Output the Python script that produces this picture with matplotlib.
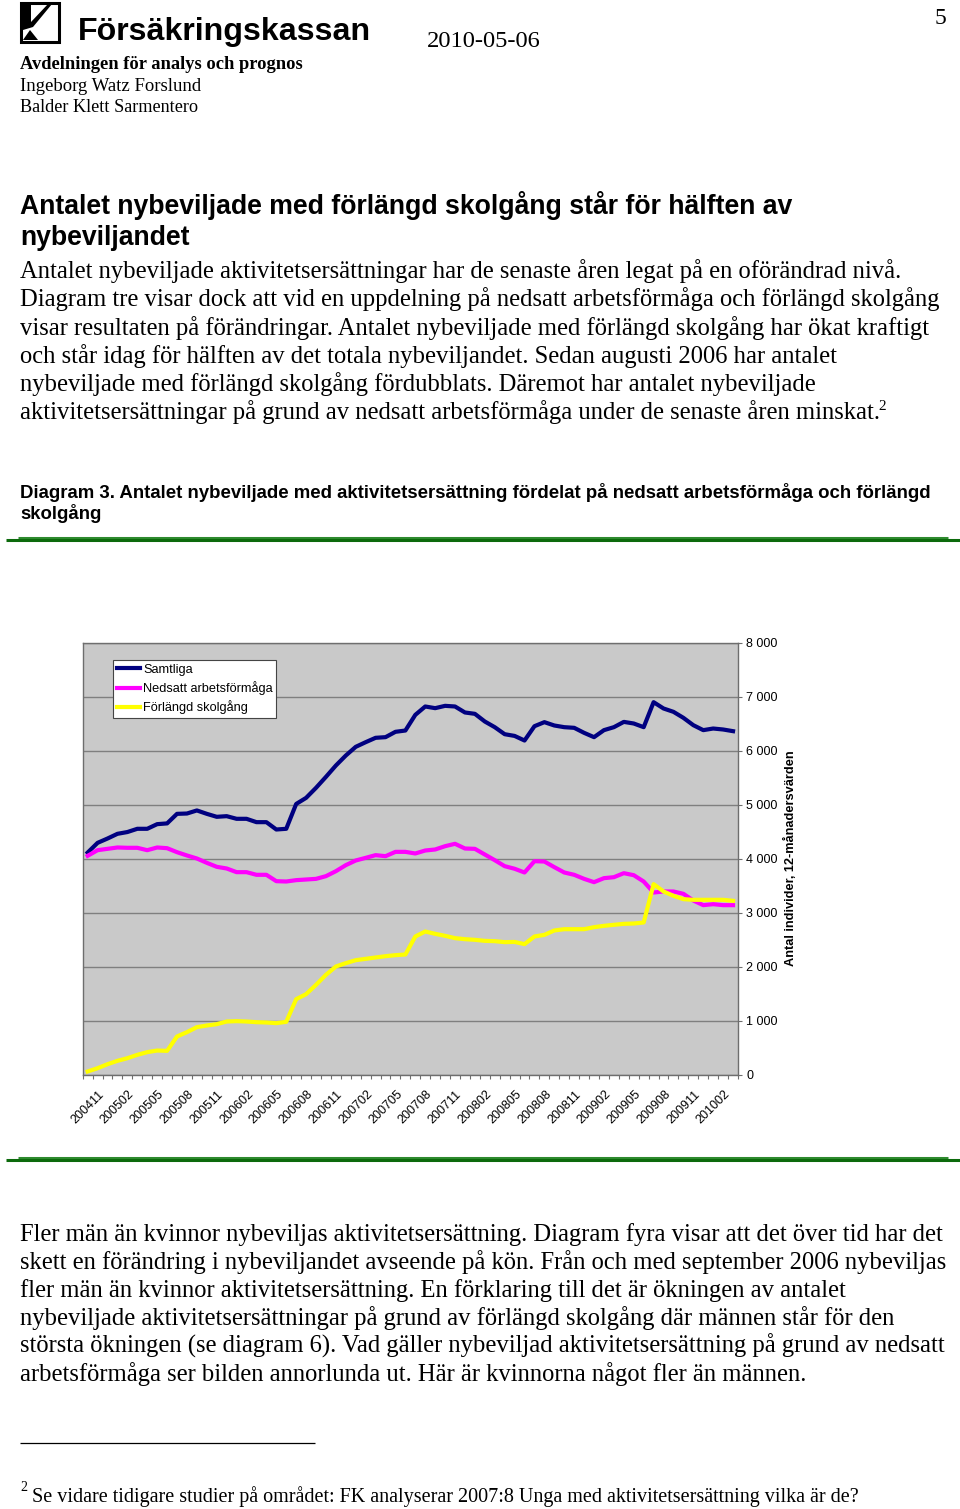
import matplotlib
matplotlib.use("Agg")
import matplotlib.pyplot as plt
from matplotlib.patches import Rectangle, Polygon
from matplotlib.lines import Line2D
import numpy as np

# ---------------- data ----------------
months = ["200411", "200412", "200501", "200502", "200503", "200504", "200505", "200506",
          "200507", "200508", "200509", "200510", "200511", "200512", "200601", "200602",
          "200603", "200604", "200605", "200606", "200607", "200608", "200609", "200610",
          "200611", "200612", "200701", "200702", "200703", "200704", "200705", "200706",
          "200707", "200708", "200709", "200710", "200711", "200712", "200801", "200802",
          "200803", "200804", "200805", "200806", "200807", "200808", "200809", "200810",
          "200811", "200812", "200901", "200902", "200903", "200904", "200905", "200906",
          "200907", "200908", "200909", "200910", "200911", "200912", "201001", "201002",
          "201003", "201004"]

samtliga = [4110, 4290, 4370, 4457, 4490, 4550, 4550, 4636, 4650, 4827, 4833, 4890, 4827,
            4772, 4784, 4735, 4735, 4673, 4673, 4537, 4550,
            5010, 5123, 5309, 5512, 5722, 5907, 6068, 6154, 6235, 6247, 6346, 6370, 6660,
            6815, 6784, 6827, 6815, 6704, 6679, 6537, 6432, 6302, 6270,
            6185, 6450, 6525, 6463, 6432, 6420, 6327, 6247, 6377, 6432, 6530, 6500, 6432,
            6895, 6778, 6716, 6605, 6469, 6377, 6407, 6389, 6358]

nedsatt = [4050, 4154, 4179, 4204, 4198, 4198, 4154, 4204, 4191, 4117, 4056, 4000, 3920,
           3846, 3815, 3747, 3747, 3698, 3698, 3580, 3574,
           3599, 3611, 3623, 3673, 3765, 3877, 3963, 4012, 4062, 4043, 4123, 4123, 4093,
           4148, 4167, 4228, 4272, 4185, 4179, 4074, 3969, 3858, 3810,
           3741, 3950, 3944, 3840, 3741, 3698, 3623, 3562, 3636, 3654, 3728, 3691, 3574,
           3370, 3389, 3389, 3346, 3222, 3136, 3154, 3136, 3136]

forlangd = [56, 117, 191, 253, 302, 364, 414, 444, 438, 704, 784, 877, 907, 932, 981, 988,
            981, 969, 963, 951, 975,
            1395, 1488, 1660, 1846, 2000, 2062, 2117, 2142, 2167, 2191, 2210, 2222, 2556,
            2648, 2605, 2568, 2525, 2506, 2494, 2475, 2469, 2451, 2455,
            2414, 2556, 2586, 2667, 2691, 2691, 2691, 2728, 2753, 2772, 2790, 2796, 2815,
            3525, 3389, 3309, 3247, 3235, 3235, 3235, 3235, 3216]

series_names = ["Samtliga", "Nedsatt arbetsförmåga", "Förlängd skolgång"]
yticks = [0, 1000, 2000, 3000, 4000, 5000, 6000, 7000, 8000]
ylabel = "Antal individer, 12-månadersvärden"

# ---------------- page ----------------
W, H = 960, 1509
fig = plt.figure(figsize=(W / 100, H / 100), dpi=100)
fig.patch.set_facecolor("white")
R = fig.canvas.get_renderer()
SERIF = "Liberation Serif"
SANS = "Liberation Sans"


def fx(x):
    return x / W


def fy(y):
    return 1 - y / H


def put(x, y, s, width=None, size=12, family=SERIF, weight="normal", ha="left",
        va="baseline", **kw):
    t = fig.text(fx(x), fy(y), s, fontsize=size, family=family, weight=weight,
                 ha=ha, va=va, **kw)
    if width:
        bb = t.get_window_extent(renderer=R)
        t.set_fontsize(size * width / bb.width)
    return t


def fit_size(s, width, family=SERIF, weight="normal", size=12):
    t = fig.text(0, 0, s, fontsize=size, family=family, weight=weight)
    bb = t.get_window_extent(renderer=R)
    t.remove()
    return size * width / bb.width


def paragraph(lines, x0, baselines, family=SERIF, weight="normal"):
    sizes = [fit_size(s, w, family, weight) for s, w in lines]
    fs = float(np.median(sizes))
    for (s, w), yb in zip(lines, baselines):
        put(x0, yb, s, size=fs, family=family, weight=weight)
    return fs


def hline(x0, x1, y, color, lw):
    fig.add_artist(Line2D([fx(x0), fx(x1)], [fy(y), fy(y)], transform=fig.transFigure,
                          color=color, lw=lw, solid_capstyle="butt"))


# logo icon
fig.add_artist(Rectangle((fx(21), fy(42)), 38 / W, 39 / H, transform=fig.transFigure,
                         fill=False, edgecolor="black", lw=2.2))
fig.add_artist(Polygon([(fx(23), fy(4)), (fx(31), fy(4)), (fx(31), fy(22)),
                        (fx(48), fy(4)), (fx(52), fy(4)), (fx(33), fy(27)),
                        (fx(23), fy(30))],
                       closed=True, transform=fig.transFigure, facecolor="black",
                       edgecolor="none"))
fig.add_artist(Polygon([(fx(23), fy(40)), (fx(30), fy(30)), (fx(38), fy(40))],
                       closed=True, transform=fig.transFigure, facecolor="black",
                       edgecolor="none"))

put(78, 40, "Försäkringskassan", width=292, size=22, family=SANS, weight="bold")
put(427, 47, "2010-05-06", width=114, size=17)
put(946, 24, "5", size=17, ha="right")
put(20, 69, "Avdelningen för analys och prognos", width=281, size=13, weight="bold")
put(20, 91, "Ingeborg Watz Forslund", width=180, size=13)
put(20, 112, "Balder Klett Sarmentero", width=179, size=13)

paragraph([("Antalet nybeviljade med förlängd skolgång står för hälften av", 772),
           ("nybeviljandet", 169)], 20, [214, 245], family=SANS, weight="bold")

body1 = [("Antalet nybeviljade aktivitetsersättningar har de senaste åren legat på en oförändrad nivå.", 877),
         ("Diagram tre visar dock att vid en uppdelning på nedsatt arbetsförmåga och förlängd skolgång", 917),
         ("visar resultaten på förändringar. Antalet nybeviljade med förlängd skolgång har ökat kraftigt", 909),
         ("och står idag för hälften av det totala nybeviljandet. Sedan augusti 2006 har antalet", 813),
         ("nybeviljade med förlängd skolgång fördubblats. Däremot har antalet nybeviljade", 793),
         ("aktivitetsersättningar på grund av nedsatt arbetsförmåga under de senaste åren minskat.", 856)]
fsb = paragraph(body1, 20, [278, 306, 335, 363, 391, 419])
put(878, 410, "2", size=fsb * 0.62)

paragraph([("Diagram 3. Antalet nybeviljade med aktivitetsersättning fördelat på nedsatt arbetsförmåga och förlängd", 903),
           ("skolgång", 81)], 20, [498, 519], family=SANS, weight="bold")

# green rules
for yy in (539, 1159):
    hline(18, 948, yy - 1.2, "#2e8b2e", 2.2)
    hline(6, 960, yy + 1.2, "#0c6a0c", 2.2)

body2 = [("Fler män än kvinnor nybeviljas aktivitetsersättning. Diagram fyra visar att det över tid har det", 920),
         ("skett en förändring i nybeviljandet avseende på kön. Från och med september 2006 nybeviljas", 923),
         ("fler män än kvinnor aktivitetsersättning. En förklaring till det är ökningen av antalet", 824),
         ("nybeviljade aktivitetsersättningar på grund av förlängd skolgång där männen står för den", 871),
         ("största ökningen (se diagram 6). Vad gäller nybeviljad aktivitetsersättning på grund av nedsatt", 925),
         ("arbetsförmåga ser bilden annorlunda ut. Här är kvinnorna något fler än männen.", 785)]
paragraph(body2, 20, [1241, 1269, 1297, 1325, 1353, 1381])

hline(20, 315, 1443, "black", 0.9)
put(20, 1491, "2", size=10)
put(32, 1502, "Se vidare tidigare studier på området: FK analyserar 2007:8 Unga med aktivitetsersättning vilka är de?",
    width=833, size=14)

# ---------------- chart ----------------
L, Rr, T, B = 82.7, 738.0, 642.5, 1074.5
ax = fig.add_axes([L / W, 1 - B / H, (Rr - L) / W, (B - T) / H])
ax.set_facecolor("#c9c9c9")
x = np.arange(len(months))
colors = ["#000080", "#ff00ff", "#ffff00"]
for vals, c, name in zip([samtliga, nedsatt, forlangd], colors, series_names):
    ax.plot(x, vals, color=c, lw=3.0, label=name, solid_joinstyle="round")

ax.set_xlim(-0.5, len(months) - 0.5)
ax.set_ylim(0, 8000)
ax.yaxis.tick_right()
ax.set_yticks(yticks)
ax.set_yticklabels([f"{v:,}".replace(",", " ") if v else "0" for v in yticks],
                   family=SANS, fontsize=9)
ax.grid(axis="y", color="#7f7f7f", lw=1.0)
ax.set_axisbelow(True)
for s in ax.spines.values():
    s.set_color("#6e6e6e")
    s.set_linewidth(1.0)
ax.tick_params(axis="y", which="major", length=3, width=0.8, color="#6e6e6e", pad=3)

ax.set_xticks(x[::3])
ax.set_xticklabels(months[::3], rotation=45, ha="center", va="top", family=SANS,
                   fontsize=9)
ax.set_xticks(np.arange(-0.5, len(months), 1.0), minor=True)
ax.tick_params(axis="x", which="major", length=0, pad=10)
ax.tick_params(axis="x", which="minor", length=3, width=0.8, color="#6e6e6e")

ax.text((790 - L) / (Rr - L), 0.5, ylabel, rotation=90, ha="center", va="center",
        transform=ax.transAxes, family=SANS, weight="bold", fontsize=9.2)

leg = ax.legend(loc="upper left", bbox_to_anchor=((113 - L) / (Rr - L), (B - 660) / (B - T)),
                borderaxespad=0, fancybox=False, framealpha=1, edgecolor="#444444",
                prop={"family": SANS, "size": 9.2}, handlelength=1.8, handletextpad=0.25,
                borderpad=0.3, labelspacing=0.42)
leg.get_frame().set_linewidth(0.8)

fig.savefig("out.png", dpi=100, facecolor="white")
